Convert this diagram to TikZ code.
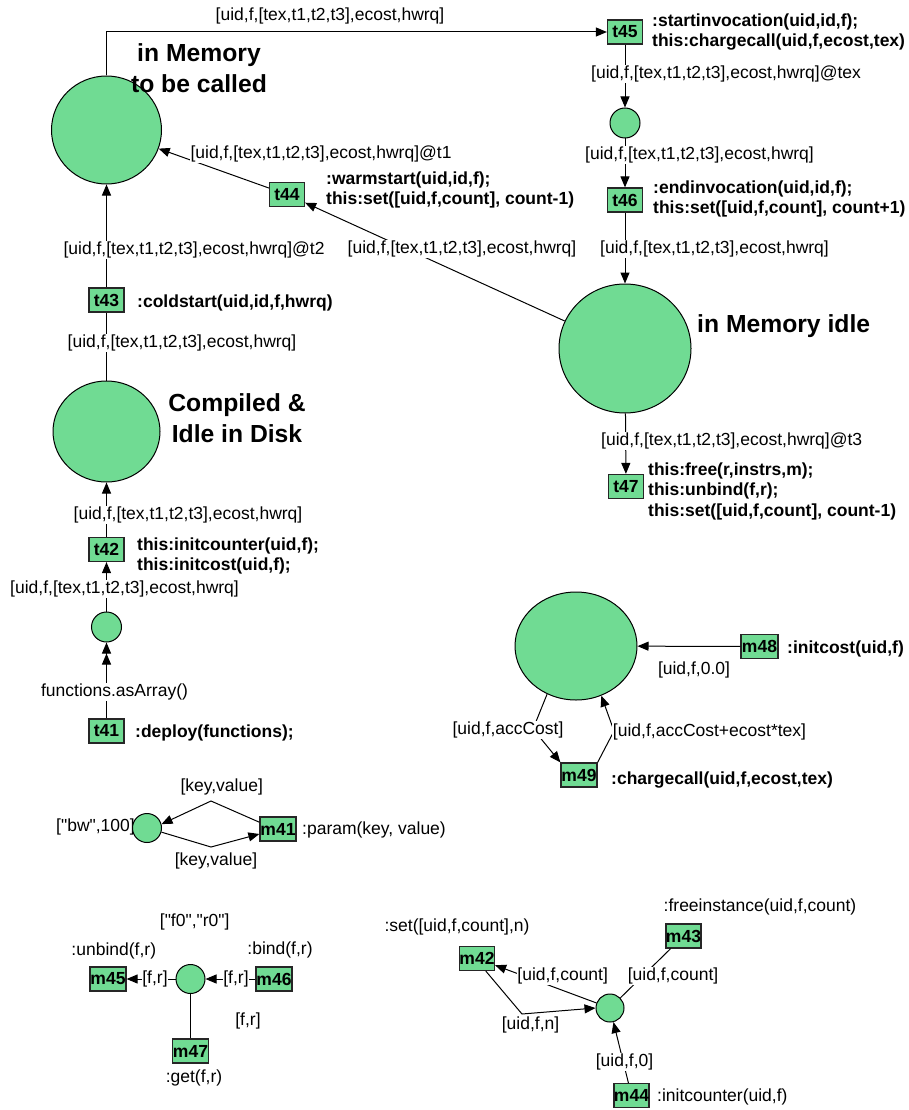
\documentclass[tikz,border=0pt]{standalone}
\usepackage{fontspec}
\setmainfont{Liberation Sans}[Ligatures=TeXOff]
\usetikzlibrary{arrows.meta,shapes.geometric}
\definecolor{pg}{RGB}{112,219,147}
\begin{document}
\begin{tikzpicture}[x=1pt,y=-1pt,
  place/.style n args={2}{ellipse,draw=black,fill=pg,line width=1pt,inner sep=0pt,minimum width=#1,minimum height=#2},
  trans/.style={draw=black!85,fill=pg,line width=1.2pt,inner sep=0pt,minimum width=35pt,minimum height=24pt,font=\fontsize{17.5}{20}\selectfont\bfseries},
  lbl/.style={fill=white,inner sep=0.5pt,font=\fontsize{17.5}{20}\selectfont},
  txt/.style={inner sep=0pt,font=\fontsize{17.5}{20}\selectfont},
  btxt/.style={inner sep=0pt,align=left,font=\fontsize{17.5}{20.5}\selectfont\bfseries},
  ttl/.style={inner sep=0pt,align=center,font=\fontsize{24.7}{30.5}\selectfont\bfseries},
  arc/.style={line width=1pt,draw=black},
  arr/.style={arc,-{Triangle[length=11pt,width=9pt]}},
  darr/.style={arc,-{Triangle[length=11pt,width=9pt]Triangle[length=11pt,width=9pt]}},
]
\path[use as bounding box] (0,0) rectangle (909,1110);

% ---------- main net ----------
\node[place={110pt}{108pt}] (P1) at (106.5,130) {};
\node[ttl] (T1) at (199,68) {in Memory\\to be called};
\node[trans] (t45) at (625,32) {t45};
\node[btxt,anchor=west] (d45) at (652,32) {:startinvocation(uid,id,f);\\this:chargecall(uid,f,ecost,tex)};
\node[place={30pt}{30pt}] (P2) at (625,123) {};
\node[trans] (t46) at (625,200) {t46};
\node[btxt,anchor=west] (d46) at (653,199) {:endinvocation(uid,id,f);\\this:set([uid,f,count], count+1)};
\node[place={132pt}{129pt}] (P3) at (625,348.5) {};
\node[ttl,anchor=west] (T3) at (697,326) {in Memory idle};
\node[trans] (t47) at (626,486.5) {t47};
\node[btxt,anchor=west] (d47) at (648,491) {this:free(r,instrs,m);\\this:unbind(f,r);\\this:set([uid,f,count], count-1)};
\node[trans] (t44) at (287,194.5) {t44};
\node[btxt,anchor=west] (d44) at (326,190) {:warmstart(uid,id,f);\\this:set([uid,f,count], count-1)};
\node[trans] (t43) at (106.5,300) {t43};
\node[btxt,anchor=west] (d43) at (137,303) {:coldstart(uid,id,f,hwrq)};
\node[place={107pt}{101pt}] (P4) at (106.5,431.5) {};
\node[ttl] (T4) at (237,418) {Compiled \&\\Idle in Disk};
\node[trans] (t42) at (106.5,549.5) {t42};
\node[btxt,anchor=west] (d42) at (137,556) {this:initcounter(uid,f);\\this:initcost(uid,f);};
\node[place={30pt}{30pt}] (P5) at (106.5,627) {};
\node[trans] (t41) at (106.5,731) {t41};
\node[btxt,anchor=west] (d41) at (135,733) {:deploy(functions);};

\draw[arr] (P1.north) |- (t45.west);
\draw[arr] (t45) -- (P2);
\draw[arr] (P2) -- (t46);
\draw[arr] (t46) -- (P3);
\draw[arr] (P3) -- (t47);
\draw[arr] (P3) -- (t44);
\draw[arr] (t44) -- (P1);
\draw[arr] (t43) -- (P1);
\draw[arc] (P4) -- (t43);
\draw[arr] (t42) -- (P4);
\draw[arr] (P5) -- (t42);
\draw[darr] (t41) -- (P5);

\node[lbl] (l1) at (330,16) {[uid,f,[tex,t1,t2,t3],ecost,hwrq]};
\node[lbl] (l2) at (726,74) {[uid,f,[tex,t1,t2,t3],ecost,hwrq]@tex};
\node[lbl] (l3) at (699.5,155) {[uid,f,[tex,t1,t2,t3],ecost,hwrq]};
\node[lbl] (l4) at (714.5,249) {[uid,f,[tex,t1,t2,t3],ecost,hwrq]};
\node[lbl] (l5) at (731.7,441) {[uid,f,[tex,t1,t2,t3],ecost,hwrq]@t3};
\node[lbl] (l6) at (321,154) {[uid,f,[tex,t1,t2,t3],ecost,hwrq]@t1};
\node[lbl] (l7) at (462,249) {[uid,f,[tex,t1,t2,t3],ecost,hwrq]};
\node[lbl] (l8) at (194,250) {[uid,f,[tex,t1,t2,t3],ecost,hwrq]@t2};
\node[lbl] (l9) at (182,343) {[uid,f,[tex,t1,t2,t3],ecost,hwrq]};
\node[lbl] (l10) at (188,515) {[uid,f,[tex,t1,t2,t3],ecost,hwrq]};
\node[lbl] (l11) at (124.5,589) {[uid,f,[tex,t1,t2,t3],ecost,hwrq]};
\node[lbl] (l12) at (114.5,692) {functions.asArray()};

% ---------- cost ----------
\node[place={122pt}{108pt}] (Pc) at (576,646) {};
\node[trans,minimum width=37pt] (m48) at (759.5,646.5) {m48};
\node[btxt,anchor=west] (d48) at (787,649) {:initcost(uid,f)};
\node[trans,minimum width=36pt] (m49) at (579,775) {m49};
\node[btxt,anchor=west] (d49) at (611,780) {:chargecall(uid,f,ecost,tex)};
\coordinate (b1) at (533,729);
\coordinate (b2) at (614,731);
\draw[arr] (m48) -- (Pc);
\draw[arr] (Pc.239) -- (b1) -- (m49.north west);
\draw[arr] (m49.north east) -- (b2) -- (Pc.297);
\node[lbl] (l13) at (694,670) {[uid,f,0.0]};
\node[lbl] (l14) at (508,730) {[uid,f,accCost]};
\node[lbl] (l15) at (709.5,732) {[uid,f,accCost+ecost*tex]};

% ---------- param ----------
\node[txt,anchor=west] (bw) at (56,827) {["bw",100]};
\node[place={29pt}{29pt}] (Pbw) at (147,828) {};
\node[trans,minimum width=36pt] (m41) at (278,829) {m41};
\node[txt,anchor=west] (d41b) at (302,830) {:param(key, value)};
\coordinate (k1) at (211,801);
\coordinate (k2) at (211,847);
\draw[arr] (m41.160) -- (k1) -- (Pbw.15);
\draw[arr] (Pbw.-16) -- (k2) -- (m41.195);
\node[lbl] (l16) at (221.7,787) {[key,value]};
\node[lbl] (l17) at (216,861) {[key,value]};

% ---------- bind ----------
\node[place={29pt}{29pt}] (Pfr) at (190.5,979) {};
\node[trans,minimum width=36pt] (m45) at (108,979) {m45};
\node[trans,minimum width=36pt] (m46) at (274,979) {m46};
\node[trans,minimum width=36pt] (m47) at (190.5,1051) {m47};
\draw[arr] (Pfr) -- (m45);
\draw[arr] (m46) -- (Pfr);
\draw[arc] (Pfr) -- (m47);
\node[lbl] (l18) at (155,979) {[f,r]};
\node[lbl] (l19) at (236,979) {[f,r]};
\node[txt] (l20) at (248,1021) {[f,r]};
\node[txt] (f0) at (194.7,922) {["f0","r0"]};
\node[txt] (d45b) at (113.8,951) {:unbind(f,r)};
\node[txt] (d46b) at (280,950) {:bind(f,r)};
\node[txt] (d47b) at (194,1078) {:get(f,r)};

% ---------- counter ----------
\node[place={28pt}{28pt}] (Pcnt) at (610,1008) {};
\node[trans,minimum width=34pt] (m42) at (477,958.5) {m42};
\node[trans,minimum width=35pt] (m43) at (683.5,936) {m43};
\node[trans,minimum width=35pt] (m44) at (631.5,1095.5) {m44};
\coordinate (n1) at (522,1014);
\draw[arr] (m44) -- (Pcnt);
\draw[arr] (Pcnt) -- (m42);
\draw[arr] (m42.-55) -- (n1) -- (Pcnt.west);
\draw[arc] (Pcnt) -- (m43);
\node[lbl] (l21) at (624.5,1062) {[uid,f,0]};
\node[lbl] (l22) at (562.7,976) {[uid,f,count]};
\node[lbl] (l23) at (530.5,1025) {[uid,f,n]};
\node[lbl] (l24) at (673,976) {[uid,f,count]};
\node[txt] (d42b) at (457,927) {:set([uid,f,count],n)};
\node[txt] (d43b) at (760,907) {:freeinstance(uid,f,count)};
\node[txt,anchor=west] (d44b) at (657,1097) {:initcounter(uid,f)};
\end{tikzpicture}
\end{document}
